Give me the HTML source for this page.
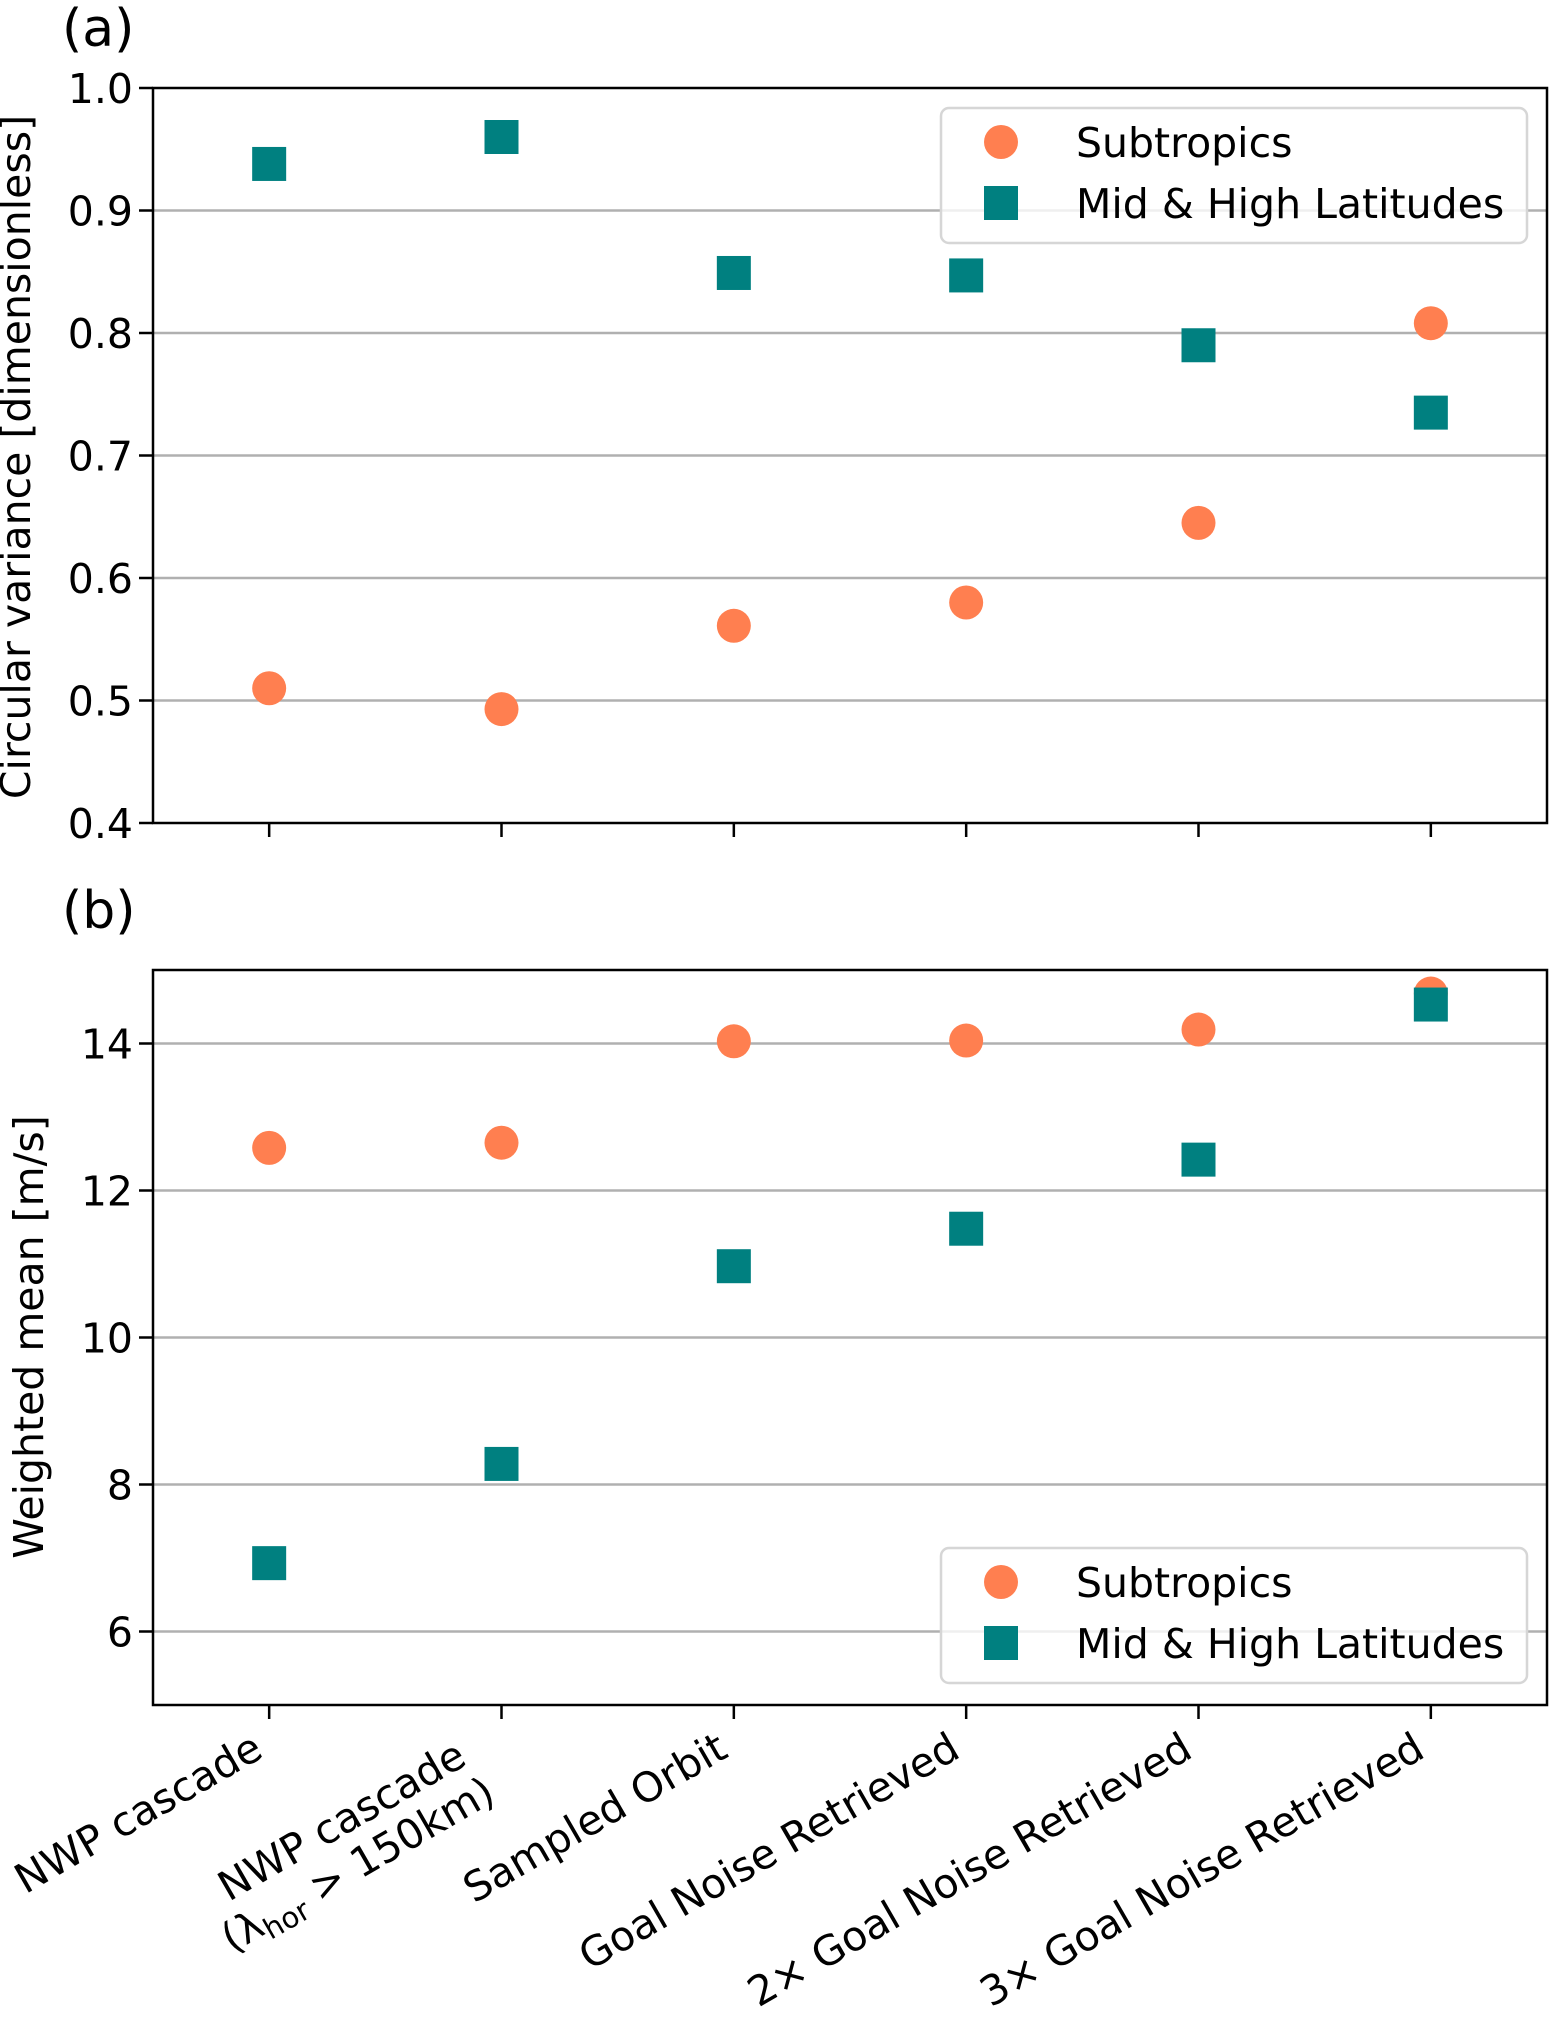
<!DOCTYPE html>
<html><head><meta charset="utf-8"><style>
html,body{margin:0;padding:0;background:#fff}
svg{display:block}
text{font-family:"DejaVu Sans","Liberation Sans",sans-serif;fill:#000}
</style></head><body>
<svg id="chart" width="1551" height="2018" xmlns="http://www.w3.org/2000/svg"></svg>
<script>
const categories=["NWP cascade","NWP cascade|(λhor > 150km)","Sampled Orbit","Goal Noise Retrieved","2× Goal Noise Retrieved","3× Goal Noise Retrieved"];
const subA=[0.510,0.493,0.561,0.580,0.645,0.808];
const midA=[0.938,0.960,0.849,0.847,0.790,0.735];
const subB=[12.58,12.65,14.03,14.04,14.19,14.68];
const midB=[6.93,8.28,10.97,11.48,12.42,14.53];
const ticksA=[0.4,0.5,0.6,0.7,0.8,0.9,1.0];
const ticksB=[6,8,10,12,14];

const NS="http://www.w3.org/2000/svg";
const svg=document.getElementById('chart');
function el(t,a,p){const e=document.createElementNS(NS,t);for(const k in a)e.setAttribute(k,a[k]);(p||svg).appendChild(e);return e;}
const L=153,R=1547,FS=41;
const xS=i=>L+(i+0.5)*(R-L)/6;

function panel(name,top,bot,ymin,ymax,ticks,fmt,s1,s2,label,labY,labX,legTop,letter,letterY){
  const g=el('g',{});
  
  
  const yS=v=>bot-(v-ymin)/(ymax-ymin)*(bot-top);
  ticks.forEach(t=>{
    const y=yS(t);
    if(t>ymin&&t<ymax){const gl=el('line',{x1:L,x2:R,y1:y,y2:y,stroke:'#b0b0b0','stroke-width':2.5},g);
      }
    el('line',{x1:L-14,x2:L,y1:y,y2:y,stroke:'#000','stroke-width':2.5},g);
    const tx=el('text',{x:L-20,y:y+15,'text-anchor':'end','font-size':FS},g);
    tx.textContent=fmt(t);
    
  });
  categories.forEach((c,i)=>{el('line',{x1:xS(i),x2:xS(i),y1:bot,y2:bot+14,stroke:'#000','stroke-width':2.5},g);});
  s1.forEach((v,i)=>{const c=el('circle',{cx:xS(i),cy:yS(v),r:17,fill:'#FF7F50'},g);
    });
  s2.forEach((v,i)=>{const r=el('rect',{x:xS(i)-17,y:yS(v)-17,width:34,height:34,fill:'#008080'},g);
    });
  const fr=el('rect',{x:L,y:top,width:R-L,height:bot-top,fill:'none',stroke:'#000','stroke-width':2.5},g);
  
  const yl=el('text',{x:0,y:0,'text-anchor':'middle','font-size':FS,transform:`translate(${labX},${labY}) rotate(-90)`},g);
  yl.textContent=label;
  
  const lt=el('text',{x:62,y:letterY,'font-size':52},g);lt.textContent=letter;
  
  const lg=el('g',{},g);
  
  el('rect',{x:941,y:legTop,width:586,height:135,rx:8,fill:'#fff','fill-opacity':0.8,stroke:'#d6d6d6','stroke-width':2.5},lg);
  el('circle',{cx:1001,cy:legTop+34,r:17,fill:'#FF7F50'},lg);
  el('rect',{x:984,y:legTop+78,width:34,height:34,fill:'#008080'},lg);
  const t1=el('text',{x:1076,y:legTop+49,'font-size':FS},lg);t1.textContent='Subtropics';
  
  const t2=el('text',{x:1076,y:legTop+110,'font-size':FS},lg);t2.textContent='Mid & High Latitudes';
  
}
panel('panel-a',88,823,0.4,1.0,ticksA,v=>v.toFixed(1),subA,midA,'Circular variance [dimensionless]',457,30,108,'(a)',46);
panel('panel-b',970,1705,5,15,ticksB,v=>String(v),subB,midB,'Weighted mean [m/s]',1337,43,1548,'(b)',928);

categories.forEach((c,i)=>{
  const x=xS(i);
  if(c.indexOf('|')<0){
    const t=el('text',{x:0,y:0,'text-anchor':'end','font-size':FS,transform:`translate(${x-4},1756) rotate(-30)`});
    t.textContent=c;
    
  } else {
    const g=el('g',{transform:`translate(${x-4},1800) rotate(-30)`});
    
    const t2=el('text',{x:0,y:0,'text-anchor':'end','font-size':FS},g);
    t2.innerHTML='(λ<tspan font-size="29" dy="8">hor</tspan><tspan dy="-8"> &gt; 150km)</tspan>';
    const w=t2.getComputedTextLength();
    const t1=el('text',{x:-w/2+8,y:-46,'text-anchor':'middle','font-size':FS},g);
    t1.textContent=c.split('|')[0];
  }
});
</script>
</body></html>
